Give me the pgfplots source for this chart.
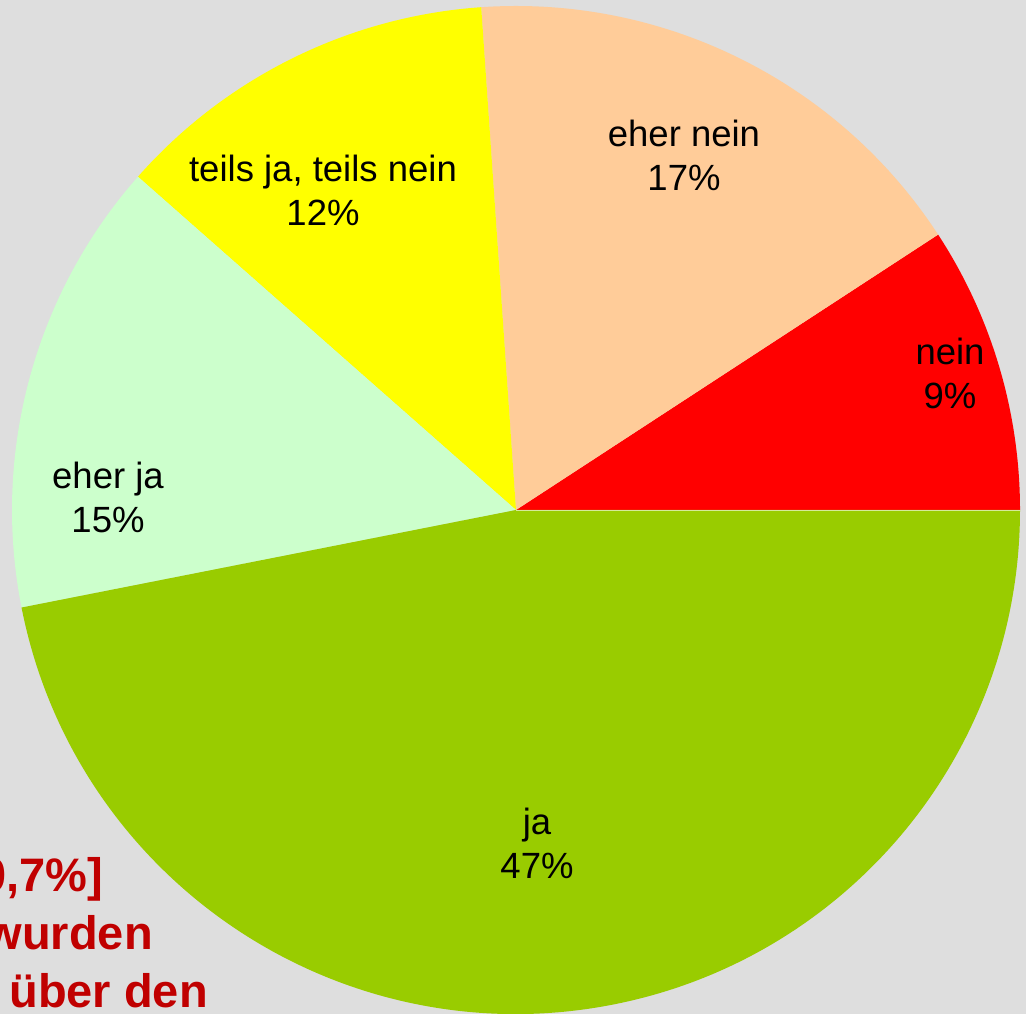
\documentclass[border=0pt]{standalone}
\usepackage{pgfplots}
\pgfplotsset{compat=1.18}
\usepackage{fontspec}
\setmainfont{Liberation Sans}
\definecolor{bg}{HTML}{DEDEDE}
\definecolor{cNein}{HTML}{FF0000}
\definecolor{cEherNein}{HTML}{FFCC99}
\definecolor{cTeils}{HTML}{FFFF00}
\definecolor{cEherJa}{HTML}{CCFFCC}
\definecolor{cJa}{HTML}{99CC00}
\definecolor{cRed}{HTML}{C00000}
% shares in percent, counter-clockwise from east
\def\vNein{9.2}
\def\vEherNein{16.9}
\def\vTeils{12.4}
\def\vEherJa{14.6}
\def\vJa{46.9}
\pgfmathsetmacro{\aA}{3.6*\vNein}
\pgfmathsetmacro{\aB}{\aA+3.6*\vEherNein}
\pgfmathsetmacro{\aC}{\aB+3.6*\vTeils}
\pgfmathsetmacro{\aD}{\aC+3.6*\vEherJa}
\pgfmathsetmacro{\aE}{\aD+3.6*\vJa}
\begin{document}
\begin{tikzpicture}
\begin{axis}[
  x=1bp, y=1bp, xmin=0, xmax=1026, ymin=0, ymax=1014,
  hide axis, at={(0,0)}, anchor=south west, clip=true,
]
\fill[bg] (axis cs:0,0) rectangle (axis cs:1026,1014);
\def\R{504bp}
\fill[cNein] (axis cs:516,504) -- ++(0:\R) arc[start angle=0, end angle=\aA, radius=\R] -- cycle;
\fill[cEherNein] (axis cs:516,504) -- ++(\aA:\R) arc[start angle=\aA, end angle=\aB, radius=\R] -- cycle;
\fill[cTeils] (axis cs:516,504) -- ++(\aB:\R) arc[start angle=\aB, end angle=\aC, radius=\R] -- cycle;
\fill[cEherJa] (axis cs:516,504) -- ++(\aC:\R) arc[start angle=\aC, end angle=\aD, radius=\R] -- cycle;
\fill[cJa] (axis cs:516,504) -- ++(\aD:\R) arc[start angle=\aD, end angle=\aE, radius=\R] -- cycle;
\draw[white, line width=0.8bp, opacity=0.6] (axis cs:516,504) -- ++(0:\R);
\tikzset{lbl/.style={align=center, inner sep=0pt, font=\fontsize{36.5bp}{44bp}\selectfont}}
\node[lbl] at (axis cs:684,859) {eher nein\\17\%};
\node[lbl] at (axis cs:323,824) {teils ja, teils nein\\12\%};
\node[lbl] at (axis cs:950,641) {nein\\9\%};
\node[lbl] at (axis cs:108,517) {eher ja\\15\%};
\node[lbl] at (axis cs:537,171) {ja\\47\%};
\tikzset{rt/.style={anchor=base east, inner sep=0pt, text=cRed, font=\fontsize{47bp}{57bp}\selectfont\bfseries}}
\node[rt] at (axis cs:103,122) {0,7\%]};
\node[rt] at (axis cs:153,64) {wurden};
\node[rt] at (axis cs:208,6) {über den};
\end{axis}
\pgfresetboundingbox
\useasboundingbox (current axis.south west) rectangle (current axis.north east);
\end{tikzpicture}
\end{document}
